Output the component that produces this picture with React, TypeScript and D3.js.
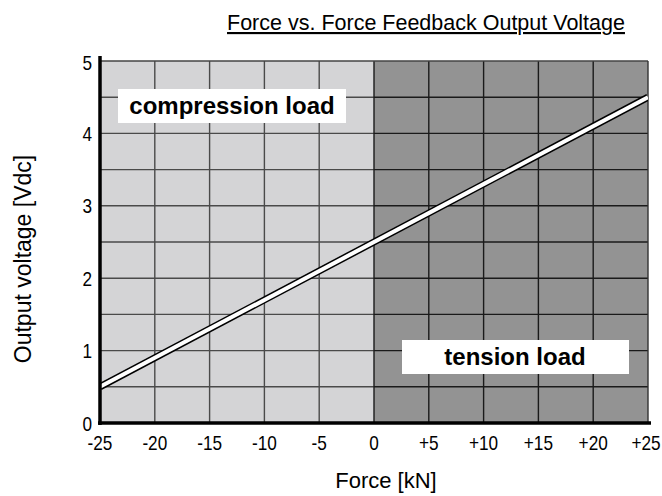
import React from "react";
import * as d3 from "d3";

const forceTicks = [-25, -20, -15, -10, -5, 0, 5, 10, 15, 20, 25];
const forceTickLabels = ["-25", "-20", "-15", "-10", "-5", "0", "+5", "+10", "+15", "+20", "+25"];
const voltageTicks = [0, 1, 2, 3, 4, 5];
const voltageGrid = [0.5, 1, 1.5, 2, 2.5, 3, 3.5, 4, 4.5];
const lineForce = [-25, 25];
const lineVoltage = [0.5, 4.5];
const regions = [
  { name: "compression load", from: -25, to: 0 },
  { name: "tension load", from: 0, to: 25 },
];

export default function App() {
  const W = 662, H = 496;
  const x = d3.scaleLinear().domain([-25, 25]).range([100, 648]);
  const y = d3.scaleLinear().domain([0, 5]).range([423, 61]);
  const pts: [number, number][] = lineForce.map((f, i) => [f, lineVoltage[i]]);
  const lineGen = d3.line<[number, number]>().x(d => x(d[0])).y(d => y(d[1]));
  const path = lineGen(pts) || "";
  const font = "'Liberation Sans', Arial, Helvetica, sans-serif";
  const fills = ["#d4d4d6", "#939393"];
  const gridCols = ["#4a4a4a", "#1a1a1a"];
  const sx = 0.86;
  return (
    <svg width={W} height={H} style={{ position: "absolute", left: 0, top: 0, background: "#fff" }}>
      <defs>
        <clipPath id="plot">
          <rect x={x(-25)} y={y(5)} width={x(25) - x(-25)} height={y(0) - y(5)} />
        </clipPath>
      </defs>
      {regions.map((r, i) => (
        <rect key={r.name} x={x(r.from)} y={y(5)} width={x(r.to) - x(r.from)} height={y(0) - y(5)} fill={fills[i]} />
      ))}
      {voltageGrid.map(v => (
        <g key={"h" + v}>
          <line x1={x(-25)} x2={x(0)} y1={y(v)} y2={y(v)} stroke={gridCols[0]} strokeWidth={1.4} />
          <line x1={x(0)} x2={x(25)} y1={y(v)} y2={y(v)} stroke={gridCols[1]} strokeWidth={1.4} />
        </g>
      ))}
      {forceTicks.filter(f => f > -25 && f < 25).map(f => (
        <line key={"v" + f} x1={x(f)} x2={x(f)} y1={y(5)} y2={y(0)} stroke={f < 0 ? gridCols[0] : gridCols[1]} strokeWidth={1.4} />
      ))}
      <line x1={x(-25)} x2={x(25)} y1={y(5)} y2={y(5)} stroke="#444" strokeWidth={1.4} />
      <line x1={x(25)} x2={x(25)} y1={y(5)} y2={y(0)} stroke="#333" strokeWidth={1.4} />
      <g clipPath="url(#plot)">
        <path d={path} stroke="#000" strokeWidth={7} fill="none" />
        <path d={path} stroke="#fff" strokeWidth={4} fill="none" />
      </g>
      <rect x={118} y={89} width={228} height={34} fill="#fff" />
      <text x={232} y={114} textAnchor="middle" fontFamily={font} fontWeight="bold" fontSize={24} fill="#000">{regions[0].name}</text>
      <rect x={402} y={340} width={227} height={34} fill="#fff" />
      <text x={515} y={365} textAnchor="middle" fontFamily={font} fontWeight="bold" fontSize={24} fill="#000">{regions[1].name}</text>
      <line x1={x(-25)} x2={x(-25)} y1={56} y2={y(0) + 2} stroke="#000" strokeWidth={3.5} />
      <line x1={x(-25) - 2} x2={651} y1={y(0)} y2={y(0)} stroke="#000" strokeWidth={3.5} />
      {forceTicks.map((f, i) => (
        <text key={"xt" + f} transform={`translate(${Math.min(x(f), 646)},449.5) scale(${sx},1)`} textAnchor="middle" fontFamily={font} fontSize={20} fill="#000">{forceTickLabels[i]}</text>
      ))}
      {voltageTicks.map(v => (
        <text key={"yt" + v} transform={`translate(92,${y(v) + 7.5 + (v === 5 ? 1 : 0)}) scale(${sx},1)`} textAnchor="end" fontFamily={font} fontSize={20} fill="#000">{v}</text>
      ))}
      <text x={426} y={30} textAnchor="middle" fontFamily={font} fontSize={21.5} fill="#000" textDecoration="underline">Force vs. Force Feedback Output Voltage</text>
      <text x={386} y={488} textAnchor="middle" fontFamily={font} fontSize={22} fill="#000">Force [kN]</text>
      <text transform={`translate(31,259) rotate(-90)`} textAnchor="middle" fontFamily={font} fontSize={23} fill="#000">Output voltage [Vdc]</text>
    </svg>
  );
}
